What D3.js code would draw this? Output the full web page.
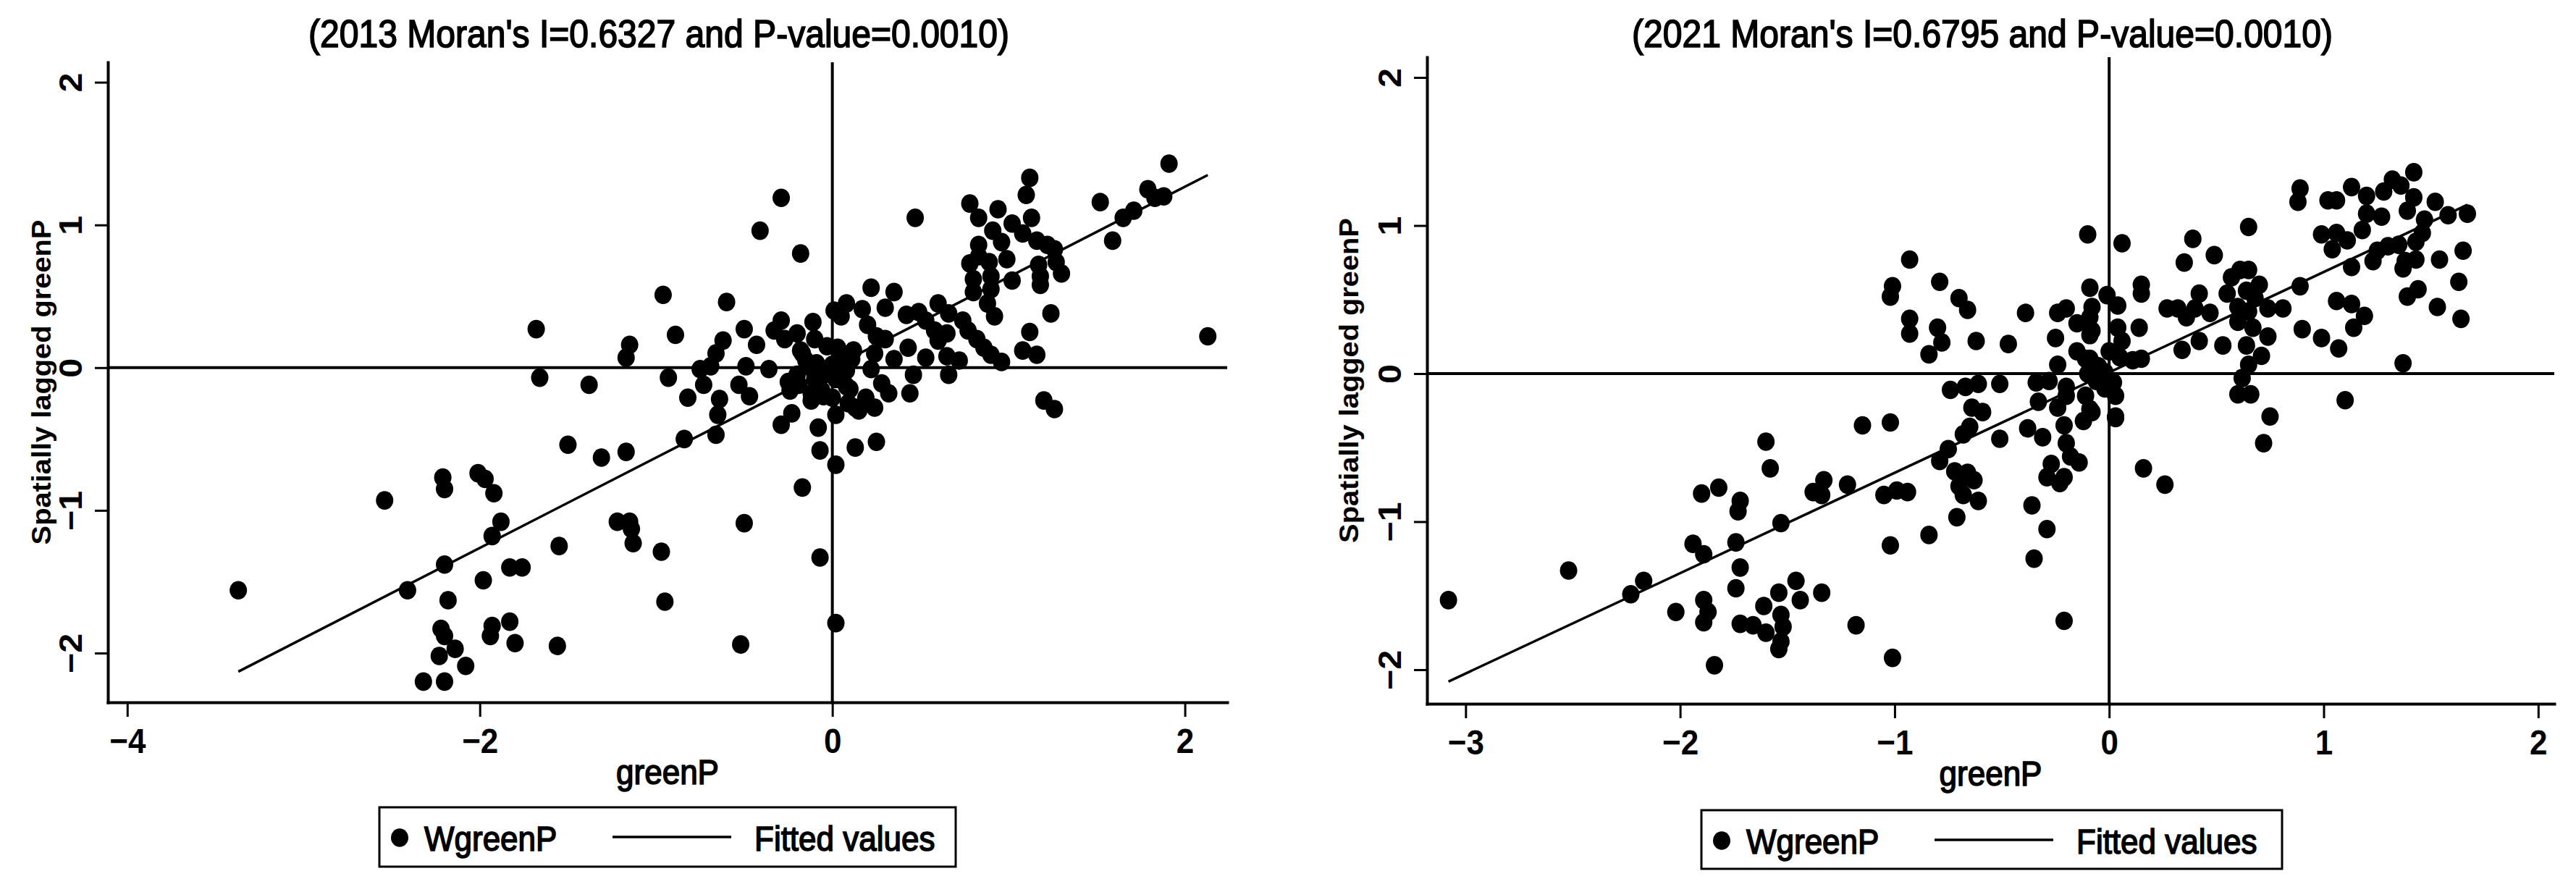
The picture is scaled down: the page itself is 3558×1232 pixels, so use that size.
<!DOCTYPE html>
<html>
<head>
<meta charset="utf-8">
<script src="https://cdn.jsdelivr.net/npm/d3@7"></script>
<style>
html,body{margin:0;padding:0;background:#fff;}
svg{display:block;}
</style>
</head>
<body>
<svg id="chart" width="3558" height="1232"></svg>
<script>
// ---------------- DATA ----------------
const titles = ["(2013 Moran's I=0.6327 and P-value=0.0010)", "(2021 Moran's I=0.6795 and P-value=0.0010)"];
const xLabel = "greenP";
const yLabel = "Spatially lagged greenP";
const legendLabels = ["WgreenP", "Fitted values"];
const xTicks2013 = [-4, -2, 0, 2];
const xTicks2021 = [-3, -2, -1, 0, 1, 2];
const yTicks = [-2, -1, 0, 1, 2];

const greenP2013 = [
 -0.41,-0.18,-0.29,-0.96,-0.60,-1.68,-0.89,-1.15,-1.17,-0.50,
 -0.62,-0.43,-0.29,-0.33,-0.27,-0.11,-0.20,-0.66,-0.69,-0.75,
 -0.49,-0.36,-1.66,-1.38,-0.93,-0.73,-0.82,-0.64,-0.53,-0.47,
 -0.65,-0.66,-0.84,-0.23,-0.29,-0.08,-0.07,0.02,0.13,0.02,
 0.15,-0.17,-0.50,-0.07,0.02,-0.52,-0.95,-0.97,-1.13,-1.22,
 -1.15,-1.14,-1.55,-1.50,-1.31,-1.17,-2.21,-2.20,-2.01,-1.97,
 -1.92,-2.54,-1.88,-1.93,-2.20,-2.41,-3.37,-2.18,-1.98,-1.83,
 -1.76,-1.83,-1.93,-1.94,-1.80,-1.56,-2.22,-2.20,-2.14,-2.23,
 -2.08,-2.32,-2.20,0.05,-0.10,-0.14,-0.19,-0.06,-0.24,-0.12,
 0.00,-0.02,0.08,0.09,-0.17,-0.09,
 1.91,1.79,1.88,1.83,1.71,1.65,1.52,1.59,1.12,1.10,
 0.78,0.94,0.83,1.13,0.47,0.91,1.02,1.08,0.83,0.96,
 1.16,1.22,1.26,0.78,0.83,0.89,0.99,0.80,0.90,1.02,
 1.18,1.18,1.30,1.27,1.17,0.80,0.90,0.88,0.92,1.24,
 1.12,1.08,1.16,0.74,0.77,0.82,0.86,0.90,0.96,1.20,
 1.26,0.22,0.35,0.60,0.66,0.08,0.17,0.30,0.42,0.49,
 0.53,0.58,0.65,0.60,0.43,0.53,0.65,0.72,0.46,0.66,
 0.44,0.20,0.25,0.30,0.24,0.22,0.35,0.11,0.03,0.28,
 0.32,0.24,0.13,0.19,0.08,0.25,2.13,0.01,
 -0.15,-0.05,0.00,0.02,-0.08,-0.12,0.05,-0.03,-0.20,0.08,
 -0.05,0.10,-0.25,-0.18,-0.10,0.04,0.12
];
const WgreenP2013 = [
 0.96,0.80,1.19,0.51,0.46,0.27,0.23,0.16,0.07,0.27,
 0.19,0.16,0.33,0.26,0.20,0.32,0.24,0.10,0.01,-0.01,
 0.01,-0.01,-0.07,-0.12,-0.07,-0.12,-0.21,-0.22,-0.12,-0.20,
 -0.33,-0.47,-0.50,-0.32,-0.40,-0.42,-0.58,-0.68,-0.56,-0.33,
 -0.30,-0.84,-1.09,-1.33,-1.79,-1.94,-1.64,-1.29,-1.23,-1.08,
 -1.08,-1.13,-1.25,-0.54,-0.63,-0.59,-0.77,-0.85,-0.74,-0.78,
 -0.88,-0.93,-1.08,-1.18,-1.38,-1.56,-1.56,-1.63,-1.49,-1.40,
 -1.40,-1.78,-1.81,-1.88,-1.93,-1.95,-1.83,-1.88,-1.97,-2.02,
 -2.09,-2.20,-2.20,0.36,-0.08,0.01,-0.12,-0.16,-0.16,-0.23,
 -0.21,-0.03,0.06,-0.25,0.10,0.03,
 1.43,1.25,1.20,1.19,1.10,1.05,1.16,0.89,1.33,1.21,
 1.15,1.11,1.05,1.05,1.05,0.96,1.01,0.94,0.86,0.88,
 0.89,0.86,0.83,0.73,0.78,0.74,0.76,0.62,0.64,0.61,
 0.64,0.58,0.66,0.74,0.72,0.53,0.55,0.45,0.36,0.38,
 0.25,0.12,0.09,0.33,0.26,0.20,0.14,0.09,0.04,-0.23,
 -0.29,0.56,0.53,0.45,0.38,0.45,0.41,0.42,0.37,0.39,
 0.33,0.26,0.24,0.19,0.14,0.07,0.08,0.05,-0.05,-0.05,
 -0.18,0.30,0.22,0.20,0.10,-0.01,0.06,0.06,0.14,-0.11,
 -0.18,-0.28,-0.28,-0.21,-0.13,-0.52,0.22,0.40,
 0.05,-0.05,0.02,-0.08,-0.12,-0.18,0.10,0.15,-0.05,-0.02,
 -0.20,-0.15,-0.10,0.12,0.20,0.05,0.12
];
const fitX2013 = [-3.37, 2.13];
const fitY2013 = [-2.13, 1.35];

const greenP2021 = [
 -0.93,-1.01,-1.02,-0.79,-0.70,-0.66,-0.93,-0.93,-0.80,-0.78,
 -0.84,-0.62,-0.47,-0.39,-0.25,-0.24,-0.20,-0.10,-0.09,-0.08,
 -0.15,-0.09,-0.01,0.04,-0.24,-0.11,-0.34,-0.28,-0.20,-0.51,
 -0.74,-0.67,-0.61,-0.64,-0.59,-0.65,-0.68,-0.33,-0.20,-0.11,
 -0.08,-0.12,0.03,-0.51,-0.38,-0.31,-0.24,-0.21,-0.20,-0.18,
 -0.14,-0.27,-0.29,-0.23,-0.21,-0.36,-0.29,-0.35,-0.21,-1.01,
 -1.18,-1.02,-0.84,-0.71,-0.72,-0.66,-0.63,-0.70,-0.68,-0.61,
 -0.75,-0.79,-1.05,-0.99,-0.94,-1.15,-1.02,-1.22,-1.33,-1.38,
 -1.34,-1.53,-1.60,-1.58,-1.90,-1.82,-1.72,-1.73,-1.94,-1.89,
 -1.74,-1.72,-2.17,-2.23,-2.52,-3.08,-2.02,-1.89,-1.87,-1.89,
 -1.74,-1.72,-1.66,-1.60,-1.61,-1.54,-1.46,-1.44,-1.34,-1.53,
 -1.52,-1.53,-1.54,-1.84,
 1.42,1.32,1.13,1.20,1.28,1.36,1.42,1.39,1.52,1.58,
 1.67,0.89,0.88,1.02,1.06,1.20,1.27,1.47,1.46,1.18,
 1.43,1.35,1.30,1.25,0.99,1.06,1.11,1.04,1.13,1.23,
 1.38,1.43,1.37,1.54,1.65,1.63,1.44,1.39,1.53,1.64,
 1.37,1.06,1.13,1.19,1.14,0.90,0.99,1.07,1.10,0.89,
 0.65,0.39,0.35,0.49,0.06,0.15,0.15,0.14,0.27,0.32,
 0.36,0.42,0.40,0.47,0.34,0.42,0.53,0.61,0.65,0.57,
 0.70,0.55,0.64,0.68,0.60,0.65,0.74,0.81,0.60,0.67,
 0.74,0.64,0.71,0.65,0.62,0.60,0.66,0.75,0.72,0.16,
 0.26,0.04,0.06,0.05,0.15,0.11,-0.09,-0.08,-0.09,-0.06,
 -0.02,0.02,0.03,-0.09,0.03,
 -0.05,-0.10,-0.02,-0.15,0.00,-0.06
];
const WgreenP2021 = [
 0.77,0.59,0.52,0.62,0.51,0.43,0.37,0.27,0.31,0.21,
 0.13,0.22,0.20,0.41,0.24,0.41,0.44,0.94,0.58,0.45,
 0.34,0.26,0.53,0.46,0.06,0.10,-0.06,-0.05,-0.09,-0.07,
 -0.11,-0.09,-0.07,-0.23,-0.26,-0.36,-0.41,-0.19,-0.15,-0.15,
 -0.26,-0.32,-0.29,-0.44,-0.37,-0.43,-0.23,-0.35,-0.47,-0.56,
 -0.60,-0.61,-0.70,-0.74,-0.70,-0.89,-1.05,-1.25,-1.67,-1.92,
 -1.70,-1.16,-1.09,-0.97,-0.66,-0.67,-0.72,-0.76,-0.82,-0.86,
 -0.51,-0.59,-0.82,-0.79,-0.80,-0.35,-0.33,-0.75,-0.72,-0.80,
 -0.82,-1.01,-0.46,-0.64,-0.81,-0.77,-0.86,-0.93,-1.15,-1.22,
 -1.14,-1.31,-1.40,-1.49,-1.33,-1.53,-1.61,-1.53,-1.61,-1.68,
 -1.45,-1.69,-1.70,-1.75,-1.57,-1.48,-1.40,-1.53,-1.48,-1.63,
 -1.71,-1.81,-1.86,-1.97,
 1.36,1.31,1.26,1.20,1.23,1.27,1.19,1.10,1.16,1.07,
 1.08,1.25,1.16,1.17,1.17,1.08,1.06,1.04,0.95,0.97,
 0.89,0.87,0.86,0.83,0.94,0.95,0.90,0.84,0.72,0.76,
 0.76,0.77,0.71,0.77,0.83,0.62,0.57,0.52,0.45,0.37,
 0.07,0.49,0.47,0.39,0.31,0.30,0.24,0.17,-0.18,0.59,
 0.99,0.91,0.75,0.80,0.88,0.60,0.54,0.31,0.44,0.44,
 0.38,0.54,0.44,0.41,0.16,0.22,0.19,0.70,0.70,0.65,
 0.60,0.54,0.56,0.51,0.45,0.42,0.44,0.44,0.35,0.31,
 0.25,0.19,0.12,0.06,-0.03,-0.14,-0.14,-0.29,-0.47,-0.64,
 -0.75,0.31,0.22,0.11,0.10,0.09,0.38,0.29,0.10,0.04,
 0.01,-0.06,-0.15,-0.24,-0.30,
 0.05,0.00,-0.10,0.15,0.15,-0.05
];
const fitX2021 = [-3.08, 1.67];
const fitY2021 = [-2.08, 1.14];

// ---------------- LAYOUT ----------------
const FONT = "'Liberation Sans', Arial, Helvetica, sans-serif";
const SY = 1.1;   // vertical stretch of the reference's glyphs

const panels = [
  {xs: greenP2013, ys: WgreenP2013, fx: fitX2013, fy: fitY2013, xt: xTicks2013, title: titles[0],
   x0: 149, x1: 1695, y0: 86, y1: 970, xd: [-4.11, 2.24], yd: [-2.345, 2.14],
   titleX: 910, yTitleX: 70, legend: {x: 524, y: 1115, w: 796, h: 82}},
  {xs: greenP2021, ys: WgreenP2021, fx: fitX2021, fy: fitY2021, xt: xTicks2021, title: titles[1],
   x0: 1971, x1: 3528, y0: 79, y1: 972, xd: [-3.18, 2.075], yd: [-2.23, 2.137],
   titleX: 2738, yTitleX: 1876, legend: {x: 2350, y: 1119, w: 802, h: 81}}
];

const svg = d3.select("#chart");
svg.append("rect").attr("width", 3558).attr("height", 1232).attr("fill", "#fff");

function addText(parent, x, y, str, o) {
  const t = parent.append("text")
    .attr("transform", `translate(${x},${y}) scale(1,${SY})` + (o.rotate ? " rotate(-90)" : ""))
    .attr("font-family", FONT)
    .attr("font-size", o.size)
    .attr("font-weight", o.weight || "normal")
    .attr("text-anchor", o.anchor || "start")
    .attr("fill", "#000")
    .text(str);
  if (o.len) t.attr("textLength", o.len).attr("lengthAdjust", "spacingAndGlyphs");
  if (o.stroke) t.attr("stroke", "#000").attr("stroke-width", o.stroke);
  return t;
}

panels.forEach(p => {
  const x = d3.scaleLinear().domain(p.xd).range([p.x0, p.x1]);
  const y = d3.scaleLinear().domain(p.yd).range([p.y1, p.y0]);
  const g = svg.append("g");

  // reference lines at 0
  g.append("line").attr("x1", p.x0).attr("x2", p.x1).attr("y1", y(0)).attr("y2", y(0))
    .attr("stroke", "#000").attr("stroke-width", 4);
  g.append("line").attr("x1", x(0)).attr("x2", x(0)).attr("y1", p.y0).attr("y2", p.y1)
    .attr("stroke", "#000").attr("stroke-width", 4);

  // scatter
  g.append("g").selectAll("ellipse")
    .data(d3.zip(p.xs, p.ys))
    .join("ellipse")
    .attr("cx", d => x(d[0])).attr("cy", d => y(d[1]))
    .attr("rx", 12).attr("ry", 12.8)
    .attr("fill", "#000");

  // fitted values
  g.append("path").datum(d3.zip(p.fx, p.fy))
    .attr("d", d3.line().x(d => x(d[0])).y(d => y(d[1])))
    .attr("fill", "none").attr("stroke", "#000").attr("stroke-width", 3.5);

  // x axis
  const xa = g.append("g").attr("transform", `translate(0,${p.y1})`)
    .call(d3.axisBottom(x).tickValues(p.xt).tickSize(20).tickSizeOuter(0).tickFormat(d3.format("d")));
  xa.select(".domain").attr("stroke", "#000").attr("stroke-width", 4).attr("stroke-linecap", "square");
  xa.selectAll(".tick line").attr("stroke", "#000").attr("stroke-width", 3);
  xa.selectAll(".tick text")
    .attr("y", null).attr("dy", null)
    .attr("transform", `translate(0,70) scale(1,${SY})`)
    .attr("font-family", FONT).attr("font-size", 44).attr("font-weight", "bold")
    .attr("fill", "#000");

  // y axis
  const ya = g.append("g").attr("transform", `translate(${p.x0},0)`)
    .call(d3.axisLeft(y).tickValues(yTicks).tickSize(18).tickSizeOuter(0).tickFormat(d3.format("d")));
  ya.select(".domain").attr("stroke", "#000").attr("stroke-width", 4).attr("stroke-linecap", "square");
  ya.selectAll(".tick line").attr("stroke", "#000").attr("stroke-width", 3);
  ya.selectAll(".tick text")
    .attr("x", null).attr("dy", null)
    .attr("text-anchor", "middle")
    .attr("transform", `translate(-36,0) scale(1,${SY}) rotate(-90)`)
    .attr("font-family", FONT).attr("font-size", 44).attr("font-weight", "bold")
    .attr("fill", "#000");

  // titles
  addText(svg, p.titleX, 65, p.title, {size: 48, anchor: "middle", len: 968, stroke: 1.5});
  addText(svg, (p.x0 + p.x1) / 2, p.y1 + 113, xLabel, {size: 44, anchor: "middle", stroke: 1.5});
  addText(svg, p.yTitleX, (p.y0 + p.y1) / 2, yLabel, {size: 37, anchor: "middle", weight: "bold", rotate: true, len: 408});

  // legend
  const L = p.legend;
  const lg = svg.append("g");
  lg.append("rect").attr("x", L.x).attr("y", L.y).attr("width", L.w).attr("height", L.h)
    .attr("fill", "#fff").attr("stroke", "#000").attr("stroke-width", 3);
  lg.append("ellipse").attr("cx", L.x + 28).attr("cy", L.y + 42).attr("rx", 12).attr("ry", 12.8).attr("fill", "#000");
  addText(lg, L.x + 62, L.y + 60, legendLabels[0], {size: 44, stroke: 1.5});
  lg.append("line").attr("x1", L.x + 322).attr("x2", L.x + 486).attr("y1", L.y + 41).attr("y2", L.y + 41)
    .attr("stroke", "#000").attr("stroke-width", 3.5);
  addText(lg, L.x + 518, L.y + 60, legendLabels[1], {size: 44, stroke: 1.5});
});
</script>
</body>
</html>
